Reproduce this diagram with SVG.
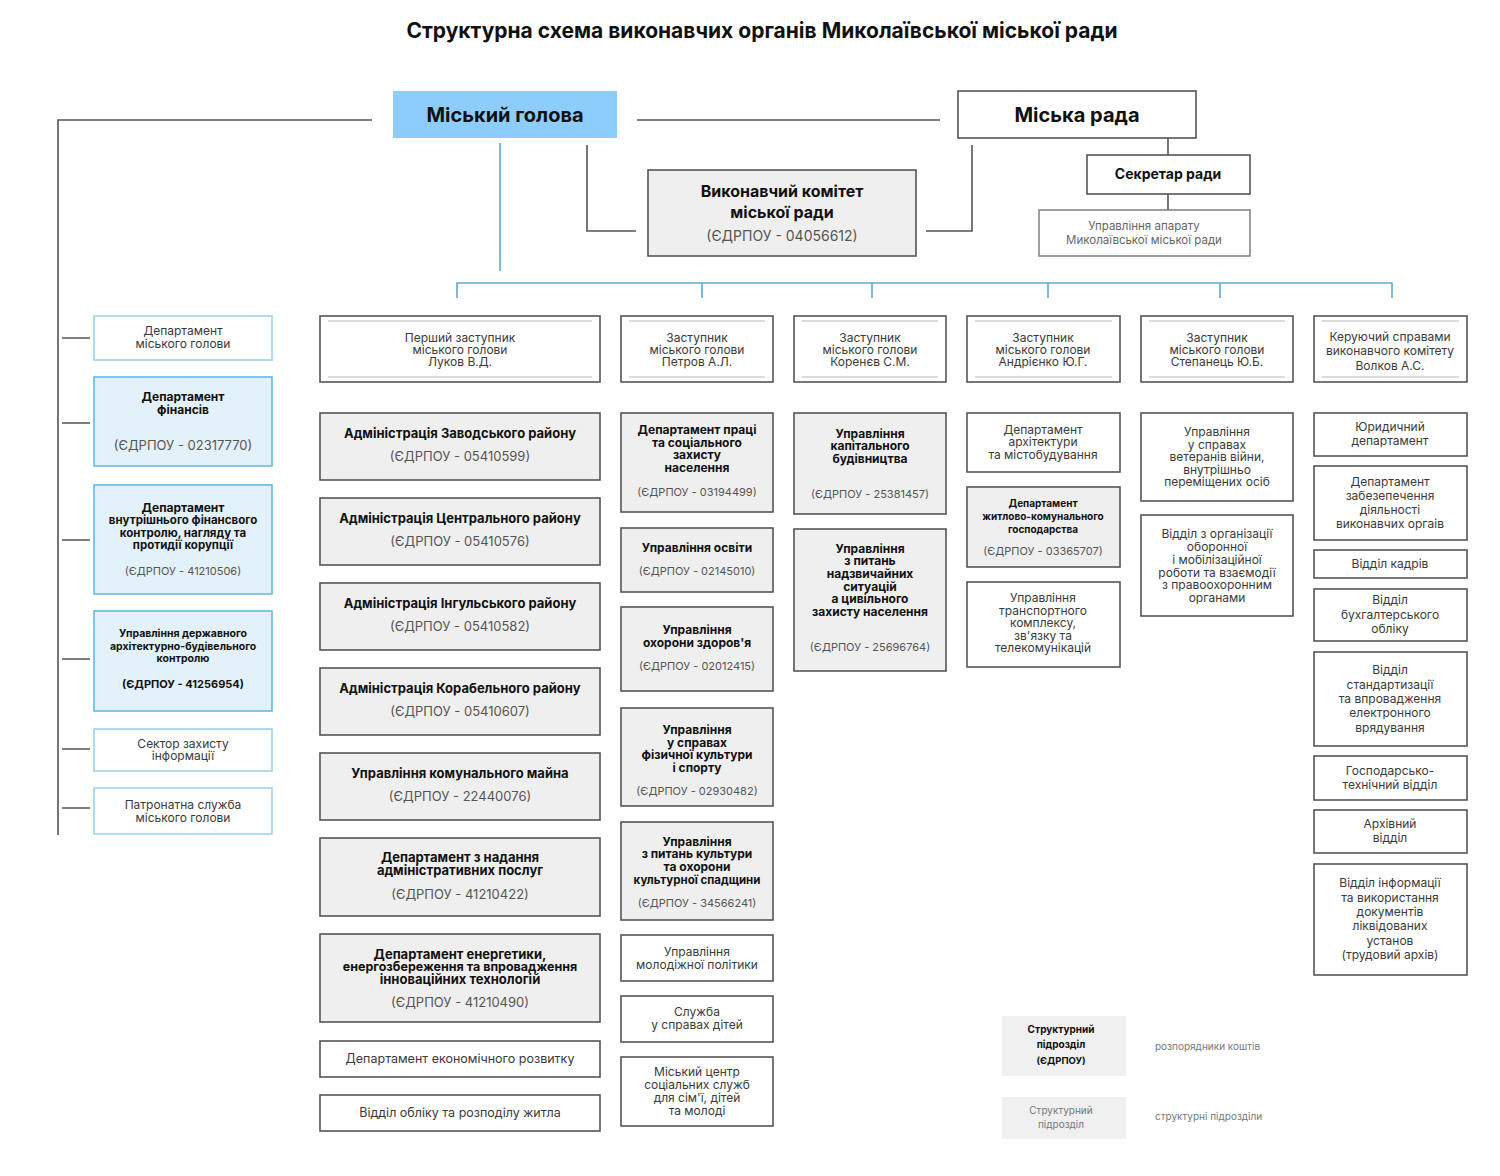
<svg xmlns="http://www.w3.org/2000/svg" width="1500" height="1176" viewBox="0 0 1500 1176">
<style>
text{font-family:Inter,"Liberation Sans","DejaVu Sans",sans-serif;text-anchor:middle;fill:#3a3a3a;font-size:12px}
.b{font-weight:700;fill:#111}
.c{font-size:13px;fill:#555}
.cs{font-size:11px;fill:#555}
.box{fill:#fff;stroke:#555;stroke-width:1.6}
.gbox{fill:#efefef;stroke:#555;stroke-width:1.6}
.lbox{fill:#fff;stroke:#9dd2ee;stroke-width:1.6}
.lbbox{fill:#e3f1fa;stroke:#67b9e4;stroke-width:1.6}
.in{stroke:#d0d0d0;stroke-width:1.5}
.ln{stroke:#555;stroke-width:1.6;fill:none}
.bl{stroke:#5aaad8;stroke-width:1.6;fill:none}
</style>
<rect width="1500" height="1176" fill="#fff"/>
<text x="762" y="38" class="b" style="font-size:21px">Структурна схема виконавчих органів Миколаївської міської ради</text>

<g id="connectors">
<path class="ln" d="M372 120H58V835"/>
<path class="ln" d="M637 120H940"/>
<path class="ln" d="M587 145V231H636"/>
<path class="ln" d="M926 231H972V145"/>
<path class="ln" d="M1168 138V155M1168 194V210"/>
<path class="bl" d="M500 143V271"/>
<path class="bl" d="M457 298V283H1392V298M702 283V298M872 283V298M1048 283V298M1220 283V298"/>
<path class="ln" d="M62 338H90M62 423H90M62 540H90M62 659H90M62 749H90M62 808H90"/>
</g>

<g id="mayor"><rect x="393" y="91" width="224" height="47" fill="#8ccdfb"/><text x="505" y="122" class="b" style="font-size:20px">Міський голова</text></g>
<g id="council"><rect x="958" y="91" width="238" height="47" class="box"/><text x="1077" y="122" class="b" style="font-size:20px">Міська рада</text></g>
<g id="exec"><rect x="648" y="170" width="268" height="86" class="gbox"/><text x="782" y="197" class="b" style="font-size:16px">Виконавчий комітет</text><text x="782" y="218" class="b" style="font-size:16px">міської ради</text><text x="782" y="241" class="c" style="font-size:14px">(ЄДРПОУ - 04056612)</text></g>
<g id="secretary"><rect x="1087" y="155" width="163" height="39" class="box"/><text x="1168" y="179" class="b" style="font-size:14px">Секретар ради</text></g>
<g id="apparatus"><rect x="1039" y="210" width="211" height="46" class="box" style="stroke:#888"/><text x="1144" y="230" style="fill:#666;font-size:11.5px">Управління апарату</text><text x="1144" y="244" style="fill:#666;font-size:11.5px">Миколаївської міської ради</text></g>

<!-- left column -->
<g id="l1"><rect x="94" y="316" width="178" height="44" class="lbox"/><text x="183" y="335">Департамент</text><text x="183" y="348">міського голови</text></g>
<g id="l2"><rect x="94" y="377" width="178" height="89" class="lbbox"/><text x="183" y="401" class="b">Департамент</text><text x="183" y="414" class="b">фінансів</text><text x="183" y="450" class="c">(ЄДРПОУ - 02317770)</text></g>
<g id="l3"><rect x="94" y="485" width="178" height="109" class="lbbox"/><text x="183" y="512" class="b">Департамент</text><text x="183" y="524" class="b" style="font-size:11.5px">внутрішнього фінансвого</text><text x="183" y="537" class="b" style="font-size:11.5px">контролю, нагляду та</text><text x="183" y="549" class="b" style="font-size:11.5px">протидії корупції</text><text x="183" y="575" class="cs">(ЄДРПОУ - 41210506)</text></g>
<g id="l4"><rect x="94" y="611" width="178" height="100" class="lbbox"/><text x="183" y="637" class="b" style="font-size:10.5px">Управління державного</text><text x="183" y="650" class="b" style="font-size:10.5px">архітектурно-будівельного</text><text x="183" y="662" class="b" style="font-size:10.5px">контролю</text><text x="183" y="688" class="b" style="font-size:11px">(ЄДРПОУ - 41256954)</text></g>
<g id="l5"><rect x="94" y="729" width="178" height="42" class="lbox"/><text x="183" y="748">Сектор захисту</text><text x="183" y="760">інформації</text></g>
<g id="l6"><rect x="94" y="788" width="178" height="46" class="lbox"/><text x="183" y="809">Патронатна служба</text><text x="183" y="822">міського голови</text></g>

<!-- column 2 -->
<g id="d1"><rect x="320" y="316" width="280" height="66" class="box"/><path class="in" d="M328 321H592M328 377H592"/><text x="460" y="342">Перший заступник</text><text x="460" y="354">міського голови</text><text x="460" y="366">Луков В.Д.</text></g>
<g id="c2a"><rect x="320" y="413" width="280" height="67" class="gbox"/><text x="460" y="438" class="b" style="font-size:13px">Адміністрація Заводського району</text><text x="460" y="461" class="c">(ЄДРПОУ - 05410599)</text></g>
<g id="c2b"><rect x="320" y="498" width="280" height="67" class="gbox"/><text x="460" y="523" class="b" style="font-size:13px">Адміністрація Центрального району</text><text x="460" y="546" class="c">(ЄДРПОУ - 05410576)</text></g>
<g id="c2c"><rect x="320" y="583" width="280" height="67" class="gbox"/><text x="460" y="608" class="b" style="font-size:13px">Адміністрація Інгульського району</text><text x="460" y="631" class="c">(ЄДРПОУ - 05410582)</text></g>
<g id="c2d"><rect x="320" y="668" width="280" height="67" class="gbox"/><text x="460" y="693" class="b" style="font-size:13px">Адміністрація Корабельного району</text><text x="460" y="716" class="c">(ЄДРПОУ - 05410607)</text></g>
<g id="c2e"><rect x="320" y="753" width="280" height="67" class="gbox"/><text x="460" y="778" class="b" style="font-size:13px">Управління комунального майна</text><text x="460" y="801" class="c">(ЄДРПОУ - 22440076)</text></g>
<g id="c2f"><rect x="320" y="838" width="280" height="78" class="gbox"/><text x="460" y="862" class="b" style="font-size:13px">Департамент з надання</text><text x="460" y="875" class="b" style="font-size:13px">адміністративних послуг</text><text x="460" y="899" class="c">(ЄДРПОУ - 41210422)</text></g>
<g id="c2g"><rect x="320" y="934" width="280" height="88" class="gbox"/><text x="460" y="959" class="b" style="font-size:13px">Департамент енергетики,</text><text x="460" y="971" class="b" style="font-size:12.5px">енергозбереження та впровадження</text><text x="460" y="984" class="b" style="font-size:13px">інноваційних технологій</text><text x="460" y="1007" class="c">(ЄДРПОУ - 41210490)</text></g>
<g id="c2h"><rect x="320" y="1041" width="280" height="36" class="box"/><text x="460" y="1063" style="font-size:12.5px">Департамент економічного розвитку</text></g>
<g id="c2i"><rect x="320" y="1095" width="280" height="36" class="box"/><text x="460" y="1117" style="font-size:12.5px">Відділ обліку  та розподілу житла</text></g>

<!-- column 3 -->
<g id="d2"><rect x="621" y="316" width="152" height="66" class="box"/><path class="in" d="M629 321H765M629 377H765"/><text x="697" y="342">Заступник</text><text x="697" y="354">міського голови</text><text x="697" y="366">Петров А.Л.</text></g>
<g id="c3a"><rect x="621" y="413" width="152" height="99" class="gbox"/><text x="697" y="434" class="b">Департамент праці</text><text x="697" y="447" class="b">та соціального</text><text x="697" y="459" class="b">захисту</text><text x="697" y="472" class="b">населення</text><text x="697" y="496" class="cs">(ЄДРПОУ - 03194499)</text></g>
<g id="c3b"><rect x="621" y="528" width="152" height="64" class="gbox"/><text x="697" y="552" class="b">Управління освіти</text><text x="697" y="575" class="cs">(ЄДРПОУ - 02145010)</text></g>
<g id="c3c"><rect x="621" y="607" width="152" height="84" class="gbox"/><text x="697" y="634" class="b">Управління</text><text x="697" y="647" class="b">охорони здоров'я</text><text x="697" y="670" class="cs">(ЄДРПОУ - 02012415)</text></g>
<g id="c3d"><rect x="621" y="708" width="152" height="98" class="gbox"/><text x="697" y="734" class="b">Управління</text><text x="697" y="747" class="b">у справах</text><text x="697" y="759" class="b">фізичної культури</text><text x="697" y="772" class="b">і спорту</text><text x="697" y="795" class="cs">(ЄДРПОУ - 02930482)</text></g>
<g id="c3e"><rect x="621" y="822" width="152" height="98" class="gbox"/><text x="697" y="846" class="b">Управління</text><text x="697" y="858" class="b">з питань культури</text><text x="697" y="871" class="b">та охорони</text><text x="697" y="884" class="b" style="font-size:11.5px">культурної спадщини</text><text x="697" y="907" class="cs">(ЄДРПОУ - 34566241)</text></g>
<g id="c3f"><rect x="621" y="935" width="152" height="46" class="box"/><text x="697" y="956">Управління</text><text x="697" y="969">молодіжної політики</text></g>
<g id="c3g"><rect x="621" y="996" width="152" height="46" class="box"/><text x="697" y="1016">Служба</text><text x="697" y="1029">у справах дітей</text></g>
<g id="c3h"><rect x="621" y="1057" width="152" height="69" class="box"/><text x="697" y="1076">Міський центр</text><text x="697" y="1089">соціальних служб</text><text x="697" y="1102">для сім'ї, дітей</text><text x="697" y="1115">та молоді</text></g>

<!-- column 4 -->
<g id="d3"><rect x="794" y="316" width="152" height="66" class="box"/><path class="in" d="M802 321H938M802 377H938"/><text x="870" y="342">Заступник</text><text x="870" y="354">міського голови</text><text x="870" y="366">Коренєв С.М.</text></g>
<g id="c4a"><rect x="794" y="413" width="152" height="101" class="gbox"/><text x="870" y="438" class="b">Управління</text><text x="870" y="450" class="b">капітального</text><text x="870" y="463" class="b">будівництва</text><text x="870" y="498" class="cs">(ЄДРПОУ - 25381457)</text></g>
<g id="c4b"><rect x="794" y="529" width="152" height="142" class="gbox"/><text x="870" y="553" class="b">Управління</text><text x="870" y="565" class="b">з питань</text><text x="870" y="578" class="b">надзвичайних</text><text x="870" y="591" class="b">ситуацій</text><text x="870" y="603" class="b">а цивільного</text><text x="870" y="616" class="b">захисту населення</text><text x="870" y="651" class="cs">(ЄДРПОУ - 25696764)</text></g>

<!-- column 5 -->
<g id="d4"><rect x="967" y="316" width="153" height="66" class="box"/><path class="in" d="M975 321H1112M975 377H1112"/><text x="1043" y="342">Заступник</text><text x="1043" y="354">міського голови</text><text x="1043" y="366">Андрієнко Ю.Г.</text></g>
<g id="c5a"><rect x="967" y="413" width="153" height="59" class="box"/><text x="1043" y="434">Департамент</text><text x="1043" y="446">архітектури</text><text x="1043" y="459">та містобудування</text></g>
<g id="c5b"><rect x="967" y="487" width="153" height="80" class="gbox"/><text x="1043" y="507" class="b" style="font-size:10px">Департамент</text><text x="1043" y="520" class="b" style="font-size:10px">житлово-комунального</text><text x="1043" y="533" class="b" style="font-size:10px">господарства</text><text x="1043" y="555" class="cs">(ЄДРПОУ - 03365707)</text></g>
<g id="c5c"><rect x="967" y="582" width="153" height="85" class="box"/><text x="1043" y="602">Управління</text><text x="1043" y="615">транспортного</text><text x="1043" y="627">комплексу,</text><text x="1043" y="640">зв'язку та</text><text x="1043" y="652">телекомунікацій</text></g>

<!-- column 6 -->
<g id="d5"><rect x="1141" y="316" width="152" height="66" class="box"/><path class="in" d="M1149 321H1285M1149 377H1285"/><text x="1217" y="342">Заступник</text><text x="1217" y="354">міського голови</text><text x="1217" y="366">Степанець Ю.Б.</text></g>
<g id="c6a"><rect x="1141" y="413" width="152" height="88" class="box"/><text x="1217" y="436">Управління</text><text x="1217" y="449">у справах</text><text x="1217" y="461">ветеранів війни,</text><text x="1217" y="474">внутрішньо</text><text x="1217" y="486">переміщених осіб</text></g>
<g id="c6b"><rect x="1141" y="515" width="152" height="101" class="box"/><text x="1217" y="538">Відділ з організації</text><text x="1217" y="551">оборонної</text><text x="1217" y="564">і мобілізаційної</text><text x="1217" y="577">роботи та взаємодії</text><text x="1217" y="589">з правоохоронним</text><text x="1217" y="602">органами</text></g>

<!-- column 7 -->
<g id="d6"><rect x="1314" y="316" width="153" height="66" class="box"/><path class="in" d="M1322 321H1459M1322 377H1459"/><text x="1390" y="341">Керуючий справами</text><text x="1390" y="355">виконавчого комітету</text><text x="1390" y="370">Волков А.С.</text></g>
<g id="c7a"><rect x="1314" y="413" width="153" height="43" class="box"/><text x="1390" y="431">Юридичний</text><text x="1390" y="445">департамент</text></g>
<g id="c7b"><rect x="1314" y="466" width="153" height="74" class="box"/><text x="1390" y="486">Департамент</text><text x="1390" y="500">забезепечення</text><text x="1390" y="514">діяльності</text><text x="1390" y="528">виконавчих оргаів</text></g>
<g id="c7c"><rect x="1314" y="550" width="153" height="28" class="box"/><text x="1390" y="568">Відділ кадрів</text></g>
<g id="c7d"><rect x="1314" y="589" width="153" height="52" class="box"/><text x="1390" y="604">Відділ</text><text x="1390" y="619">бухгалтерського</text><text x="1390" y="633">обліку</text></g>
<g id="c7e"><rect x="1314" y="652" width="153" height="94" class="box"/><text x="1390" y="674">Відділ</text><text x="1390" y="689">стандартизації</text><text x="1390" y="703">та впровадження</text><text x="1390" y="717">електронного</text><text x="1390" y="732">врядування</text></g>
<g id="c7f"><rect x="1314" y="756" width="153" height="44" class="box"/><text x="1390" y="775">Господарсько-</text><text x="1390" y="789">технічний відділ</text></g>
<g id="c7g"><rect x="1314" y="810" width="153" height="43" class="box"/><text x="1390" y="828">Архівний</text><text x="1390" y="842">відділ</text></g>
<g id="c7h"><rect x="1314" y="864" width="153" height="111" class="box"/><text x="1390" y="887">Відділ інформації</text><text x="1390" y="902">та використання</text><text x="1390" y="916">документів</text><text x="1390" y="930">ліквідованих</text><text x="1390" y="945">установ</text><text x="1390" y="959">(трудовий архів)</text></g>

<!-- legend -->
<g id="legend1"><rect x="1002" y="1016" width="124" height="60" fill="#f0f0f0"/><text x="1061" y="1033" class="b" style="font-size:10px">Структурний</text><text x="1061" y="1048" class="b" style="font-size:10px">підрозділ</text><text x="1061" y="1064" class="b" style="font-size:9.5px">(ЄДРПОУ)</text><text x="1155" y="1050" style="text-anchor:start;font-size:10px;fill:#777">розпорядники коштів</text></g>
<g id="legend2"><rect x="1002" y="1097" width="124" height="42" fill="#f0f0f0"/><text x="1061" y="1114" style="font-size:10px;fill:#777">Структурний</text><text x="1061" y="1128" style="font-size:10px;fill:#777">підрозділ</text><text x="1155" y="1120" style="text-anchor:start;font-size:10px;fill:#777">структурні підрозділи</text></g>
</svg>
